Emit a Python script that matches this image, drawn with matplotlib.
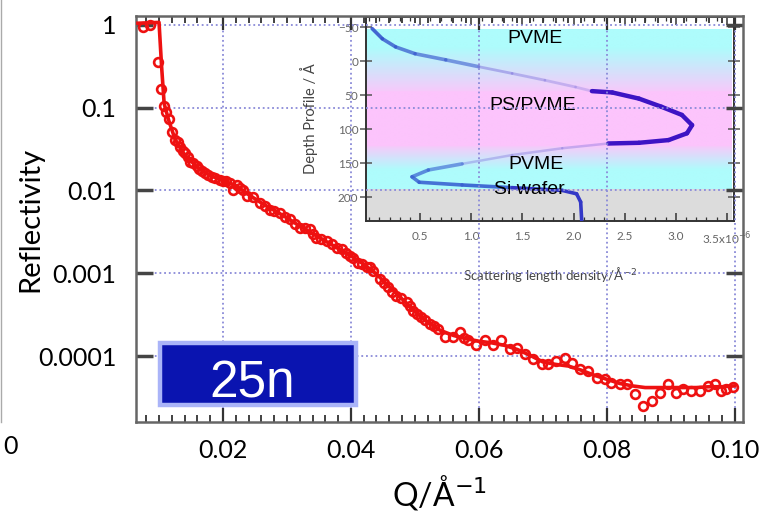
import numpy as np
import matplotlib
matplotlib.use('Agg')
import matplotlib.pyplot as plt
from matplotlib.collections import LineCollection
from matplotlib.patches import Rectangle
from matplotlib.lines import Line2D
from matplotlib.ticker import FixedLocator, MultipleLocator, NullLocator

# reflectivity data (Q in 1/A, log10 R)
q_data = [0.0075, 0.0086, 0.0099, 0.0103, 0.0107, 0.0111, 0.0115, 0.0120, 0.0125, 0.0129,
          0.0133, 0.0137, 0.0141, 0.0145, 0.0148, 0.0153, 0.0159, 0.0163, 0.0167, 0.0172,
          0.0177, 0.0183, 0.0188, 0.0195, 0.0200, 0.0205, 0.0211, 0.0216, 0.0222, 0.0227,
          0.0232, 0.0237, 0.0247, 0.0258, 0.0266, 0.0273, 0.0280, 0.0289, 0.0297, 0.0305,
          0.0313, 0.0320, 0.0328, 0.0336, 0.0341, 0.0346, 0.0354, 0.0362, 0.0370, 0.0378,
          0.0386, 0.0393, 0.0398, 0.0404, 0.0411, 0.0418, 0.0425, 0.0430, 0.0435, 0.0445,
          0.0452, 0.0458, 0.0465, 0.0471, 0.0479, 0.0487, 0.0492, 0.0497, 0.0503, 0.0510,
          0.0516, 0.0523, 0.0530, 0.0536, 0.0547, 0.0560, 0.0570, 0.0577, 0.0583, 0.0596,
          0.0609, 0.0622, 0.0635, 0.0648, 0.0659, 0.0672, 0.0685, 0.0698, 0.0708, 0.0721,
          0.0734, 0.0745, 0.0758, 0.0771, 0.0784, 0.0797, 0.0807, 0.0820, 0.0831, 0.0844,
          0.0857, 0.0870, 0.0883, 0.0896, 0.0909, 0.0919, 0.0932, 0.0945, 0.0958, 0.0969,
          0.0979, 0.0987, 0.0997]
logr_data = [-0.03, 0.00, -0.45, -0.78, -0.98, -1.05, -1.14, -1.29, -1.39, -1.42,
             -1.47, -1.52, -1.55, -1.60, -1.65, -1.67, -1.71, -1.74, -1.77, -1.79,
             -1.81, -1.84, -1.85, -1.87, -1.89, -1.88, -1.91, -1.99, -1.93, -1.97,
             -2.00, -2.07, -2.08, -2.15, -2.19, -2.23, -2.25, -2.27, -2.32, -2.35,
             -2.40, -2.45, -2.45, -2.47, -2.53, -2.57, -2.58, -2.61, -2.65, -2.69,
             -2.71, -2.75, -2.79, -2.81, -2.87, -2.89, -2.92, -2.93, -2.97, -3.07,
             -3.12, -3.17, -3.22, -3.27, -3.30, -3.35, -3.40, -3.45, -3.49, -3.53,
             -3.57, -3.61, -3.64, -3.67, -3.77, -3.77, -3.71, -3.78, -3.81, -3.86,
             -3.81, -3.86, -3.81, -3.92, -3.90, -3.98, -4.04, -4.10, -4.10, -4.06,
             -4.02, -4.08, -4.16, -4.18, -4.26, -4.28, -4.32, -4.34, -4.34, -4.46,
             -4.60, -4.54, -4.44, -4.34, -4.44, -4.40, -4.42, -4.42, -4.36, -4.34,
             -4.42, -4.40, -4.37]

# fitted curve
q_fit = [0.0067, 0.0100, 0.0104, 0.0108, 0.0115, 0.0125, 0.0140, 0.0160, 0.0180, 0.0200,
         0.0220, 0.0240, 0.0260, 0.0280, 0.0300, 0.0320, 0.0340, 0.0360, 0.0380, 0.0400,
         0.0420, 0.0440, 0.0460, 0.0480, 0.0500, 0.0520, 0.0540, 0.0560, 0.0580, 0.0600,
         0.0620, 0.0640, 0.0660, 0.0680, 0.0700, 0.0720, 0.0740, 0.0760, 0.0780, 0.0800,
         0.0820, 0.0840, 0.0860, 0.0880, 0.0900, 0.0920, 0.0940, 0.0960, 0.0980, 0.1000]
logr_fit = [0.02, 0.03, -0.50, -0.95, -1.15, -1.38, -1.57, -1.72, -1.82, -1.88,
            -1.94, -2.05, -2.15, -2.24, -2.33, -2.43, -2.52, -2.61, -2.70, -2.79,
            -2.89, -3.01, -3.16, -3.31, -3.46, -3.59, -3.69, -3.75, -3.79, -3.82,
            -3.84, -3.87, -3.92, -3.99, -4.07, -4.10, -4.12, -4.17, -4.23, -4.28,
            -4.33, -4.36, -4.38, -4.38, -4.38, -4.38, -4.38, -4.37, -4.37, -4.36]

# depth profile (SLD in 1e-6 A^-2, depth in A)
sld_prof = [0.03, 0.13, 0.26, 0.45, 0.75, 1.07, 1.40, 1.72, 2.02, 2.18, 2.38, 2.64, 2.86,
            3.06, 3.16, 3.11, 2.93, 2.64, 2.34, 1.89, 1.40, 0.91, 0.58, 0.42, 0.49, 0.91,
            1.40, 1.89, 2.03, 2.07, 2.08]
depth_prof = [-48, -33, -21, -11, -2, 8, 18, 28, 38, 44, 46, 55, 67,
              79, 94, 106, 116, 120, 121, 128, 138, 151, 160, 170, 178, 182,
              186, 190, 195, 207, 234]

yticks = [1e-4, 1e-3, 1e-2, 1e-1, 1]
ytick_labels = ['0.0001', '0.001', '0.01', '0.1', '1']
xticks = [0.02, 0.04, 0.06, 0.08, 0.10]
xtick_labels = ['0.02', '0.04', '0.06', '0.08', '0.10']
inset_xticks = [0.5, 1.0, 1.5, 2.0, 2.5, 3.0, 3.5]
inset_xtick_labels = ['0.5', '1.0', '1.5', '2.0', '2.5', '3.0', '3.5x10$^{-6}$']
inset_yticks = [-50, 0, 50, 100, 150, 200]
layer_names = ['PVME', 'PS/PVME', 'PVME', 'Si wafer']
layer_x = [1.62, 1.60, 1.63, 1.57]
layer_y = [-33, 65, 152, 188]

W, H = 765, 518
fig = plt.figure(figsize=(W / 100, H / 100), dpi=100)
fig.patch.set_facecolor('white')

def fx(px):
    return px / W

def fy(py):
    return 1 - py / H

tick_font = 'Lato'
red = '#ee1111'
grid_col = '#8a8ad8'

# ---------- inset (drawn underneath the main axes) ----------
axi = fig.add_axes([fx(366), fy(221), fx(734 - 366), (221 - 17) / H], zorder=1)
axi.set_facecolor('white')
axi.set_xlim(-0.03, 3.57)
axi.set_ylim(235, -65)

cyan = np.array([174, 252, 252]) / 255
pink_l = np.array([246, 202, 250]) / 255
pink = np.array([252, 196, 252]) / 255
band_d = [-47, -20, 43.9, 44, 125, 125.1, 160, 188]
band_c = [cyan, cyan, pink_l, pink, pink, pink_l, cyan, cyan]
dd = np.linspace(-47, 188, 500)
img = np.zeros((len(dd), 1, 3))
for ch in range(3):
    img[:, 0, ch] = np.interp(dd, band_d, [c[ch] for c in band_c])
axi.imshow(img, extent=[-0.03, 3.55, 188, -47], origin='upper', aspect='auto',
           interpolation='bilinear', zorder=0)
axi.axhspan(188, 235, xmin=0, xmax=(3.55 + 0.03) / 3.60, color='#dcdcdc', zorder=0, lw=0)

# profile curve with fading colour
pts = np.column_stack([sld_prof, depth_prof])
segs = np.stack([pts[:-1], pts[1:]], axis=1)
mid_d = 0.5 * (np.array(depth_prof[:-1]) + np.array(depth_prof[1:]))
seg_cols, seg_lw = [], []
for d in mid_d:
    if d < 5:
        a = np.interp(d, [-48, 5], [0.95, 0.55])
        seg_cols.append((0.20, 0.33, 0.80, a)); seg_lw.append(2.6)
    elif d < 44:
        a = np.interp(d, [5, 44], [0.5, 0.25])
        seg_cols.append((0.45, 0.40, 0.85, a)); seg_lw.append(2.0)
    elif d < 121:
        seg_cols.append((0.24, 0.08, 0.77, 1.0)); seg_lw.append(3.2)
    elif d < 150:
        seg_cols.append((0.45, 0.40, 0.85, 0.35)); seg_lw.append(1.8)
    elif d < 186:
        a = np.interp(d, [150, 186], [0.55, 0.95])
        seg_cols.append((0.22, 0.38, 0.82, a)); seg_lw.append(2.6)
    else:
        seg_cols.append((0.20, 0.22, 0.78, 1.0)); seg_lw.append(2.6)
axi.add_collection(LineCollection(segs, colors=seg_cols, linewidths=seg_lw,
                                  capstyle='round', joinstyle='round', zorder=3))

for name, x, y in zip(layer_names, layer_x, layer_y):
    axi.text(x, y, name, ha='center', va='center', fontsize=14,
             family='Liberation Sans', color='black', zorder=4)

axi.xaxis.set_major_locator(FixedLocator(inset_xticks))
axi.set_xticklabels(inset_xtick_labels)
axi.xaxis.set_minor_locator(MultipleLocator(0.1))
axi.yaxis.set_major_locator(FixedLocator(inset_yticks))
axi.yaxis.set_minor_locator(NullLocator())
axi.tick_params(axis='x', which='both', direction='in', top=True, bottom=True,
                labelsize=8.5, labelcolor='#666666', color='#333333', pad=7)
axi.tick_params(axis='x', which='major', length=6, width=1.1)
axi.tick_params(axis='x', which='minor', length=3, width=0.9)
axi.tick_params(axis='y', which='major', direction='inout', left=True, right=True,
                length=9, width=1.1, labelsize=8.5, labelcolor='#666666', color='#555555', pad=1)
for lab in axi.get_xticklabels() + axi.get_yticklabels():
    lab.set_family(tick_font)
axi.set_xlabel('Scattering length density/Å$^{-2}$', fontsize=9.5, color='#444444',
               family=tick_font, labelpad=13)
axi.set_ylabel('Depth Profile / Å', fontsize=10.5, color='#444444', family=tick_font,
               labelpad=14)
for sp in axi.spines.values():
    sp.set_color('#333333')
    sp.set_linewidth(1.4)

# ---------- main reflectivity axes ----------
ax = fig.add_axes([fx(136), fy(422), fx(743 - 136), (422 - 16) / H], zorder=2)
ax.set_facecolor('none')
ax.set_yscale('log')
ax.set_xlim(0.0064, 0.1013)
ax.set_ylim(1.6e-5, 1.28)

ax.plot(q_fit, 10 ** np.array(logr_fit), color=red, lw=2.6, zorder=3)
ax.plot(q_data, 10 ** np.array(logr_data), 'o', mfc='none', mec=red, mew=1.9, ms=6.3, zorder=4)

ax.grid(True, which='major', color=grid_col, linestyle=(0, (1, 1.6)), linewidth=1.3)
ax.set_axisbelow(True)

ax.xaxis.set_major_locator(FixedLocator(xticks))
ax.set_xticklabels(xtick_labels)
ax.xaxis.set_minor_locator(MultipleLocator(0.002))
ax.yaxis.set_major_locator(FixedLocator(yticks))
ax.set_yticklabels(ytick_labels)
ax.yaxis.set_minor_locator(NullLocator())
ax.tick_params(axis='x', which='both', direction='in', top=True, bottom=True, color='#333333')
ax.tick_params(axis='x', which='major', length=10, width=1.6, labelsize=18, pad=12)
ax.tick_params(axis='x', which='minor', length=5, width=1.3)
ax.tick_params(axis='y', which='major', direction='in', left=True, right=True, length=12,
               width=2.5, color='#444444', labelsize=18, pad=14)
for lab in ax.get_xticklabels() + ax.get_yticklabels():
    lab.set_family(tick_font)
for sp in ax.spines.values():
    sp.set_color('#666666')
    sp.set_linewidth(1.8)

ax.set_ylabel('Reflectivity', fontsize=21, family=tick_font)
ax.yaxis.set_label_coords((30 - 136) / (743 - 136), 0.5)
ax.yaxis.label.set_va('center')
ax.set_xlabel('Q/Å$^{-1}$', fontsize=23, family=tick_font)
ax.xaxis.set_label_coords(0.5, -(493 - 422) / (422 - 16))
ax.xaxis.label.set_va('center')

# sample label box
ax.add_patch(Rectangle((fx(160), fy(405)), fx(196), (405 - 343) / H, transform=fig.transFigure,
                       facecolor='#0a14b0', edgecolor='#aab4f8', lw=3.2, zorder=6, clip_on=False))
ax.text(fx(252), fy(397), '25n', transform=fig.transFigure, ha='center', va='baseline',
        fontsize=37, color='white', family='Liberation Sans', zorder=7)

# stray bits of the original picture
fig.text(fx(10), fy(447), '0', ha='center', va='center', fontsize=18, family=tick_font)
fig.add_artist(Line2D([fx(1), fx(1)], [fy(422), 1], color='#aaaaaa', lw=1))

fig.savefig('out.png', dpi=100, facecolor='white')
